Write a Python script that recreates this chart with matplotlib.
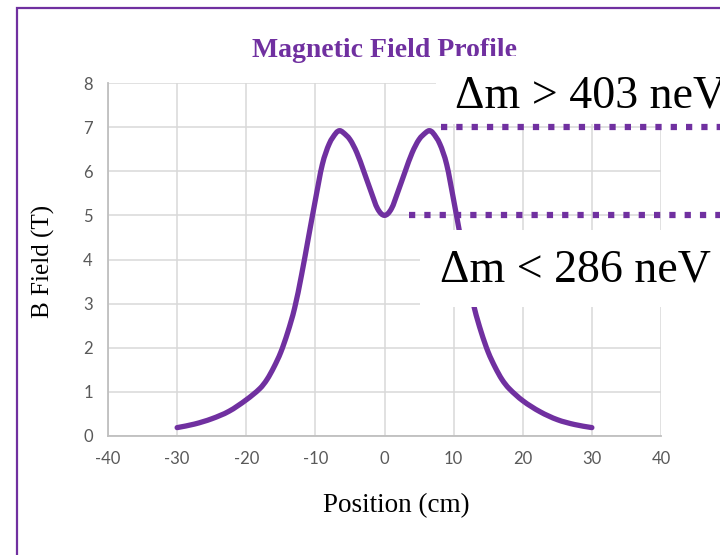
import matplotlib
matplotlib.use('Agg')
import matplotlib.pyplot as plt
from matplotlib.patches import Rectangle, PathPatch
from matplotlib.path import Path

plt.rcParams['axes.unicode_minus'] = False

# field profile (cm, T)
position = [-30, -27.5, -25, -22.5, -20, -18, -17, -16, -15, -14, -13, -12, -11,
            -10, -9, -8, -7, -6.5, -6, -5, -4, -3, -2, -1, 0,
            1, 2, 3, 4, 5, 6, 6.5, 7, 8, 9, 10, 11, 12, 13, 14, 15,
            16, 17, 18, 20, 22.5, 25, 27.5, 30]
b_field = [0.19, 0.27, 0.39, 0.56, 0.82, 1.08, 1.28, 1.56, 1.9, 2.35, 2.9, 3.65, 4.5,
           5.35, 6.15, 6.62, 6.87, 6.92, 6.88, 6.72, 6.42, 6.0, 5.56, 5.15, 5.0,
           5.15, 5.56, 6.0, 6.42, 6.72, 6.88, 6.92, 6.87, 6.62, 6.15, 5.35, 4.5, 3.65, 2.9, 2.35, 1.9,
           1.56, 1.28, 1.08, 0.8, 0.55, 0.37, 0.26, 0.19]

levels = [7, 5]
level_start = [8.2, 3.6]
level_labels = ['\u0394m > 403 neV', '\u0394m < 286 neV']

x_ticks = [-40, -30, -20, -10, 0, 10, 20, 30, 40]
y_ticks = [0, 1, 2, 3, 4, 5, 6, 7, 8]

purple = '#7030A0'
W, H = 720, 555


def fx(px):
    return px / W


def fy(py):
    return 1 - py / H


def smooth_path(xs, ys):
    # smoothed line: cubic hermite pieces through every point
    n = len(xs)
    slopes = []
    for i in range(n):
        a = max(i - 1, 0)
        b = min(i + 1, n - 1)
        slopes.append((ys[b] - ys[a]) / (xs[b] - xs[a]))
    verts = [(xs[0], ys[0])]
    codes = [Path.MOVETO]
    for i in range(n - 1):
        h = xs[i + 1] - xs[i]
        verts += [(xs[i] + h / 3, ys[i] + slopes[i] * h / 3),
                  (xs[i + 1] - h / 3, ys[i + 1] - slopes[i + 1] * h / 3),
                  (xs[i + 1], ys[i + 1])]
        codes += [Path.CURVE4] * 3
    return Path(verts, codes)


def main():
    fig = plt.figure(figsize=(7.2, 5.55), dpi=100)
    ax = fig.add_axes([fx(108), fy(436), fx(661) - fx(108), fy(83) - fy(436)])

    ax.set_xlim(-40, 40)
    ax.set_ylim(0, 8)
    ax.set_xticks(x_ticks)
    ax.set_yticks(y_ticks)
    ax.grid(True, color='#D9D9D9', linewidth=1.1, zorder=0)
    ax.set_axisbelow(True)
    for side in ['top', 'right']:
        ax.spines[side].set_visible(False)
    for side in ['left', 'bottom']:
        ax.spines[side].set_color('#BFBFBF')
        ax.spines[side].set_linewidth(1.3)
    ax.tick_params(length=0, labelsize=12, labelcolor='#595959', pad=11)
    for lab in ax.get_xticklabels() + ax.get_yticklabels():
        lab.set_fontfamily('Lato')

    curve = PathPatch(smooth_path(position, b_field), facecolor='none',
                      edgecolor=purple, linewidth=3.8, capstyle='round',
                      joinstyle='round', zorder=2)
    ax.add_patch(curve)

    # title, drawn inside the axes so the label boxes can cover it
    ax.text(fx(384), fy(57), 'Magnetic Field Profile', transform=fig.transFigure,
            ha='center', va='baseline', fontsize=20, fontweight='bold',
            family='Liberation Serif', color=purple, zorder=3, clip_on=False)

    ax.text(fx(43), fy(261), 'B Field (T)', transform=fig.transFigure,
            ha='center', va='center', rotation=90, fontsize=18,
            family='Liberation Serif', color='black', clip_on=False)
    ax.text(fx(396), fy(506), 'Position (cm)', transform=fig.transFigure,
            ha='center', va='center', fontsize=19.5,
            family='Liberation Serif', color='black', clip_on=False)

    # white boxes behind the annotations
    for x0, y0, y1 in [(436, 56, 124), (420, 230, 307)]:
        box = Rectangle((fx(x0), fy(y1)), 1.2, fy(y0) - fy(y1),
                        transform=fig.transFigure, facecolor='white',
                        edgecolor='none', zorder=3.5, clip_on=False)
        ax.add_patch(box)

    for lvl, x0 in zip(levels, level_start):
        ax.plot([x0, 55], [lvl, lvl], color=purple, linewidth=4.5,
                linestyle=(0, (1, 1.45)), dash_capstyle='butt',
                zorder=4, clip_on=False)

    for (px, py), label in zip([(455, 107), (440, 282)], level_labels):
        ax.text(fx(px), fy(py), label, transform=fig.transFigure,
                ha='left', va='baseline', fontsize=33,
                family='Liberation Serif', color='black', zorder=5, clip_on=False)

    border = Rectangle((fx(17), -0.2), 1.5, fy(8) + 0.2, transform=fig.transFigure,
                       facecolor='none', edgecolor=purple, linewidth=1.6)
    fig.add_artist(border)

    fig.savefig('out.png', dpi=100)


if __name__ == '__main__':
    main()
